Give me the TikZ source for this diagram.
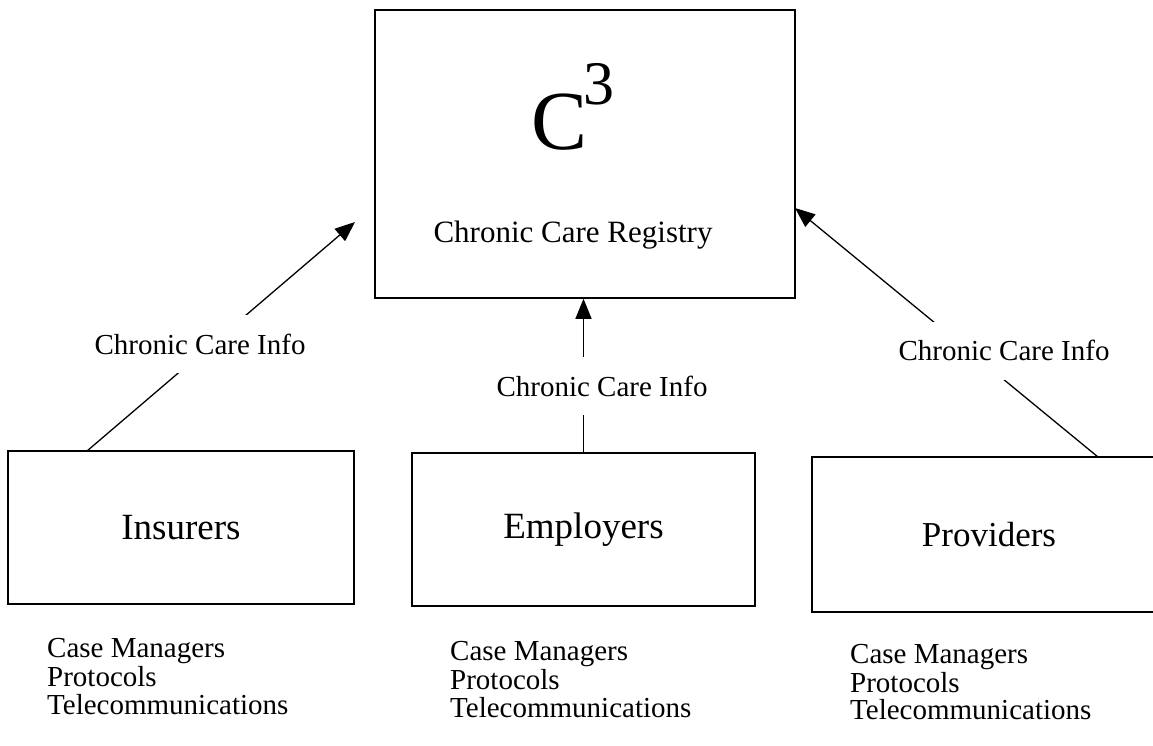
\documentclass[tikz,border=0pt]{standalone}
\usepackage{fontspec}
\setmainfont{Liberation Serif}
\usetikzlibrary{arrows.meta}
\begin{document}
\begin{tikzpicture}[x=1pt,y=-1pt,
  box/.style={draw=black, line width=1.5pt, inner sep=0pt},
  boxtxt/.style={font=\fontsize{37}{40}\selectfont},
  conn/.style={line width=1.3pt, -{Triangle[length=20pt,width=16pt]}},
  lbl/.style={font=\fontsize{29}{34}\selectfont, fill=white, inner sep=0pt, minimum height=58pt},
  item/.style={font=\fontsize{29}{32}\selectfont, anchor=base west, inner sep=0pt, text height=20pt, text depth=0pt}]
\useasboundingbox (0,0) rectangle (1153,746);
\clip (0,0) rectangle (1153,746);
% boxes
\node[box, minimum width=420pt, minimum height=288pt] (reg) at (585,154) {};
\node[anchor=base, inner sep=0pt, font=\fontsize{84}{84}\selectfont] (cbig) at (560,150) {C};
\node[anchor=base west, inner sep=0pt, font=\fontsize{62}{62}\selectfont] (csup) at (583,105) {3};
\node[anchor=base, inner sep=0pt, font=\fontsize{31}{34}\selectfont] (regname) at (573,242) {Chronic Care Registry};
\node[box, boxtxt, minimum width=346pt, minimum height=153pt] (ins) at (181,527.5) {Insurers};
\node[box, boxtxt, minimum width=343pt, minimum height=153pt] (emp) at (583.5,529.5) {Employers};
\node[box, font=\fontsize{35}{38}\selectfont, minimum width=354pt, minimum height=155pt] (prov) at (989,534.5) {Providers};
% connector ends
\coordinate (insOut) at (87,451);
\coordinate (insTip) at (355,222);
\coordinate (provOut) at (1098,457);
\coordinate (provTip) at (795,208);
\draw[conn] (insOut) -- (insTip);
\draw[conn] (emp.north) -- (emp.north |- reg.south);
\draw[conn] (provOut) -- (provTip);
% labels
\node[lbl] (l1) at (200,344) {Chronic Care Info};
\node[lbl] (l2) at (602,386) {Chronic Care Info};
\node[lbl] (l3) at (1004,350.5) {Chronic Care Info};
% lists
\node[item] (i1) at (47,657) {Case Managers};
\node[item] (i2) at (47,686) {Protocols};
\node[item] (i3) at (47,714) {Telecommunications};
\node[item] (e1) at (450,660) {Case Managers};
\node[item] (e2) at (450,689) {Protocols};
\node[item] (e3) at (450,717) {Telecommunications};
\node[item] (p1) at (850,663) {Case Managers};
\node[item] (p2) at (850,692) {Protocols};
\node[item] (p3) at (850,719) {Telecommunications};
\end{tikzpicture}
\end{document}
